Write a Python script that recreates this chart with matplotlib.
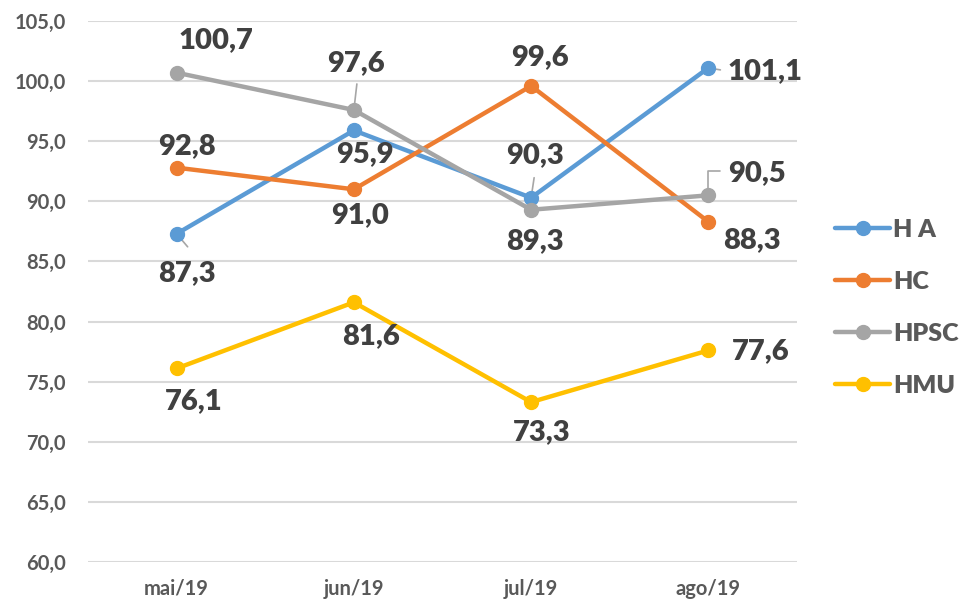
import matplotlib.pyplot as plt

months = ['mai/19', 'jun/19', 'jul/19', 'ago/19']
names = ['H A', 'HC', 'HPSC', 'HMU']
h_a = [87.3, 95.9, 90.3, 101.1]
hc = [92.8, 91.0, 99.6, 88.3]
hpsc = [100.7, 97.6, 89.3, 90.5]
hmu = [76.1, 81.6, 73.3, 77.6]
series = [h_a, hc, hpsc, hmu]

colors = ['#5B9BD5', '#ED7D31', '#A5A5A5', '#FFC000']

# label offsets in pixels (dx, dy), one row per series
offsets = [
    [(10, -39), (11, -24), (4, 43), (57, -3)],
    [(10, 22), (6, -26), (9, 29), (44, -18)],
    [(39, 33), (2, 47), (4, -31), (49, 22)],
    [(17, -33), (17, -34), (11, -30), (52, -1)],
]
# leader lines: (series, point, start offset, connection style)
leaders = [
    (0, 0, (11, -13), 'arc3'),
    (0, 2, (3, 20), 'arc3'),
    (0, 3, (12, -2), 'arc3'),
    (2, 1, (3, 26), 'arc3'),
    (2, 3, (12, 24), 'angle,angleA=0,angleB=90,rad=0'),
]

plt.rcParams['font.family'] = ['Lato', 'DejaVu Sans']
plt.rcParams['font.weight'] = 'bold'

fig = plt.figure(figsize=(9.65, 6.03), dpi=100)
ax = fig.add_axes([88 / 965, 41 / 603, 709 / 965, 541 / 603])

x = range(len(months))
for vals, name, c in zip(series, names, colors):
    ax.plot(x, vals, color=c, lw=3.2, marker='o', ms=10, label=name, zorder=3,
            solid_capstyle='round')

for si, vals in enumerate(series):
    for i, v in enumerate(vals):
        ax.annotate(f'{v:.1f}'.replace('.', ','), xy=(i, v),
                    xytext=offsets[si][i], textcoords='offset pixels',
                    ha='center', va='center', fontsize=21, fontweight='heavy',
                    color='#404040', zorder=5)

for si, i, start, cs in leaders:
    ax.annotate('', xy=(i, series[si][i]), xytext=start, textcoords='offset pixels',
                arrowprops=dict(arrowstyle='-', color='#A6A6A6', lw=1.2,
                                shrinkA=0, shrinkB=0, connectionstyle=cs),
                zorder=2)

ax.set_xlim(-0.5, 3.5)
ax.set_ylim(60, 105)
ax.set_xticks(list(x))
ax.set_xticklabels(months)
yt = list(range(60, 106, 5))
ax.set_yticks(yt)
ax.set_yticklabels([f'{t:.1f}'.replace('.', ',') for t in yt])
ax.tick_params(length=0, labelsize=14.5, labelcolor='#595959')
ax.tick_params(axis='y', pad=16)
ax.tick_params(axis='x', pad=12)
ax.grid(axis='y', color='#D9D9D9', lw=1.5)
ax.set_axisbelow(True)
for s in ax.spines.values():
    s.set_visible(False)

leg = ax.legend(loc='center left', bbox_to_anchor=(1.04, 0.47), frameon=False,
                fontsize=18, handlelength=2.2, handletextpad=0.12,
                labelspacing=1.2, borderaxespad=0)
for t in leg.get_texts():
    t.set_color('#595959')
    t.set_fontweight('heavy')

fig.savefig('out.png', dpi=100)
